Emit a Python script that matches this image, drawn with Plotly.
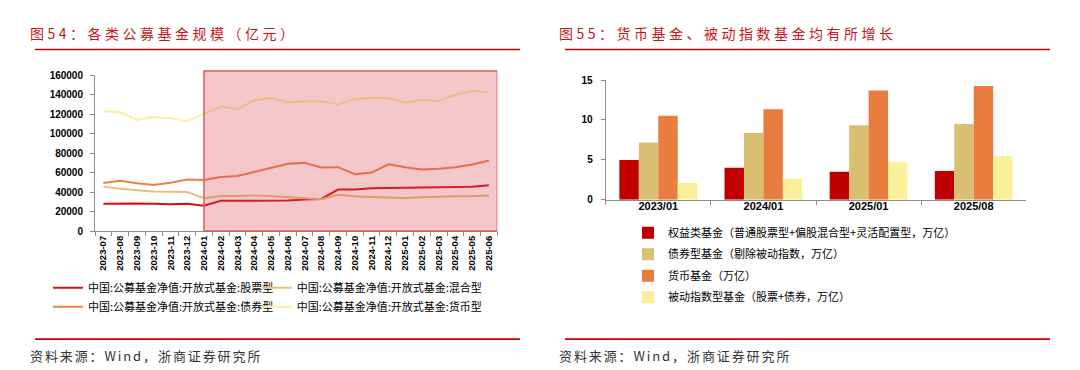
import plotly.graph_objects as go

# ---------------- data ----------------
months = ["2023-07", "2023-08", "2023-09", "2023-10", "2023-11", "2023-12",
          "2024-01", "2024-02", "2024-03", "2024-04", "2024-05", "2024-06",
          "2024-07", "2024-08", "2024-09", "2024-10", "2024-11", "2024-12",
          "2025-01", "2025-02", "2025-03", "2025-04", "2025-05", "2025-06"]
stock_fund = [28000, 28300, 28300, 28000, 27600, 28000, 26000, 31000, 31000, 31600, 31600, 31300,
              32300, 33000, 42600, 42600, 44000, 44300, 44000, 44600, 45000, 45600, 45600, 47000]
mixed_fund = [45600, 43300, 42000, 40600, 40300, 40000, 33600, 36000, 36000, 36600, 36000, 35000,
              33600, 32600, 37300, 35600, 35000, 34600, 34000, 34600, 35300, 35600, 35600, 36500]
bond_fund = [49300, 51600, 49000, 47300, 49600, 53000, 52300, 55600, 56600, 61000, 65000, 69000,
             70000, 65300, 65600, 58300, 60000, 68600, 65600, 63300, 64000, 65600, 68300, 72500]
money_fund = [123100, 122100, 114100, 117100, 115700, 112700, 120100, 128100, 125100, 134300, 136600, 132000,
              133300, 133300, 130300, 135300, 137000, 136300, 132000, 134600, 133600, 140000, 144000, 142600]
line_names = ["中国:公募基金净值:开放式基金:股票型", "中国:公募基金净值:开放式基金:混合型",
              "中国:公募基金净值:开放式基金:债券型", "中国:公募基金净值:开放式基金:货币型"]
highlight_start = "2024-01"

periods = ["2023/01", "2024/01", "2025/01", "2025/08"]
equity_bar = [4.97, 4.0, 3.52, 3.6]
bond_bar = [7.17, 8.38, 9.35, 9.51]
money_bar = [10.53, 11.34, 13.68, 14.25]
index_bar = [2.1, 2.67, 4.74, 5.5]
bar_names = ["权益类基金（普通股票型+偏股混合型+灵活配置型，万亿）",
             "债券型基金（剔除被动指数，万亿）",
             "货币基金（万亿）",
             "被动指数型基金（股票+债券，万亿）"]

title_left = "图54：各类公募基金规模（亿元）"
title_right = "图55：货币基金、被动指数基金均有所增长"
source_text = "资料来源：Wind，浙商证券研究所"

# ---------------- style ----------------
W, H = 1080, 370
CJK = "Noto Sans CJK SC"
NUM = "Liberation Sans"
RED = "#C00000"
AX = "#8C8C8C"
line_colors = ["#D40F14", "#E3C07A", "#EE7F45", "#FCEFA0"]
bar_colors = ["#C00000", "#D9BF72", "#E97D40", "#FAF09C"]


def px(x):
    return x / W


def py(y):
    return 1 - y / H


fig = go.Figure()

left_series = [stock_fund, mixed_fund, bond_fund, money_fund]
legend_ids = ["legend", "legend2", "legend3", "legend4"]
for vals, name, col, lg in zip(left_series, line_names, line_colors, legend_ids):
    fig.add_trace(go.Scatter(x=months, y=vals, name=name, mode="lines",
                             line=dict(color=col, width=2),
                             xaxis="x", yaxis="y", legend=lg))

bar_series = [equity_bar, bond_bar, money_bar, index_bar]
for i, (vals, name, col) in enumerate(zip(bar_series, bar_names, bar_colors)):
    fig.add_trace(go.Bar(x=periods, y=vals, name=name, marker=dict(color=col, line=dict(width=0)),
                         xaxis="x2", yaxis="y2", legend="legend5", legendgroup="g%d" % i))

tickfont = dict(family=NUM, size=10, color="#000000", weight="bold")
legfont = dict(family=CJK, size=11, color="#000")

# left legend positions (text start x, row centre y)
left_leg_pos = [(40, 283), (248.7, 283), (40, 302.5), (248.7, 302.5)]
legends = {}
for lg, (lx, ly) in zip(legend_ids, left_leg_pos):
    legends[lg] = dict(orientation="h", x=px(lx), y=py(ly), xanchor="left", yanchor="middle",
                       font=legfont, bgcolor="rgba(0,0,0,0)",
                       itemclick=False, itemdoubleclick=False)
legends["legend5"] = dict(orientation="v", x=px(620), y=py(211), xanchor="left", yanchor="top",
                          tracegroupgap=2.5, font=legfont, bgcolor="rgba(0,0,0,0)",
                          itemclick=False, itemdoubleclick=False)

fig.update_layout(
    width=W, height=H,
    margin=dict(l=0, r=0, t=0, b=0),
    paper_bgcolor="white", plot_bgcolor="white",
    showlegend=True,
    barmode="group", bargap=0.26, bargroupgap=0,
    xaxis=dict(domain=[px(87), px(489.3)], type="category", categoryarray=months,
               range=[-0.5, len(months) - 0.5], showgrid=False, zeroline=False,
               showline=True, linecolor=AX, linewidth=1,
               ticks="outside", tickson="boundaries", ticklen=4, tickcolor=AX,
               tickangle=-90, tickfont=dict(family=NUM, size=9.5, color="#000", weight="bold"),
               anchor="y"),
    yaxis=dict(domain=[py(224.3), py(63.3)], range=[0, 160000], dtick=20000, tickformat="d",
               showgrid=False, zeroline=False, showline=True, linecolor=AX, linewidth=1,
               ticks="outside", ticklen=4, tickcolor=AX, tickfont=tickfont,
               ticklabelstandoff=5, anchor="x"),
    xaxis2=dict(domain=[px(597.7), px(1018.3)], type="category", categoryarray=periods,
                showgrid=False, zeroline=False, showline=True, linecolor=AX, linewidth=1,
                ticks="outside", tickson="boundaries", ticklen=4, tickcolor=AX,
                tickfont=dict(family=NUM, size=11, color="#000", weight="bold"),
                ticklabelstandoff=-4, anchor="y2"),
    yaxis2=dict(domain=[py(192), py(68.3)], range=[0, 15], dtick=5,
                showgrid=False, zeroline=False, showline=True, linecolor=AX, linewidth=1,
                ticks="outside", ticklen=4, tickcolor=AX, tickfont=tickfont,
                ticklabelstandoff=6, anchor="x2"),
    **legends,
)

# highlight region
fig.add_shape(type="rect", xref="x", yref="y domain",
              x0=months.index(highlight_start), x1=len(months) - 0.5, y0=0, y1=1.027,
              fillcolor="rgba(218,70,80,0.30)", line=dict(color="#E05A5A", width=1.5),
              layer="above")

# decorative separator lines
for (x0, x1) in [(27, 512), (557, 1042)]:
    for yy in (36.7, 336):
        fig.add_shape(type="line", xref="paper", yref="paper",
                      x0=px(x0), x1=px(x1), y0=py(yy), y1=py(yy),
                      line=dict(color=RED, width=1.6))

# titles and sources
for x0, txt in [(28, title_left), (557, title_right)]:
    fig.add_annotation(text='<span style="letter-spacing:3.5px">%s</span>' % txt,
                       xref="paper", yref="paper", x=px(x0 - 8), y=py(19.5),
                       xanchor="left", yanchor="middle", showarrow=False,
                       font=dict(family=CJK, size=14, color="#C8161E"))
    fig.add_annotation(text='<span style="letter-spacing:1.9px">%s</span>' % source_text,
                       xref="paper", yref="paper", x=px(x0 - 8), y=py(352.5),
                       xanchor="left", yanchor="middle", showarrow=False,
                       font=dict(family=CJK, size=13, color="#333333"))

fig.write_html("out.html")
